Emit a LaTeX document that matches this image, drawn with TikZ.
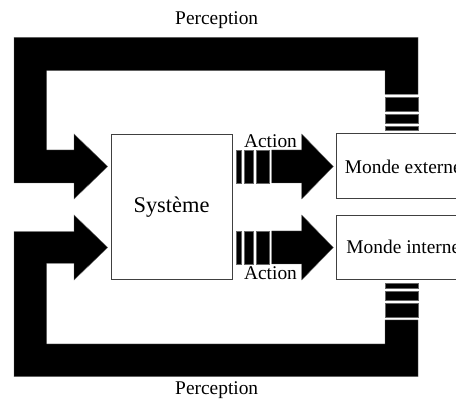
\documentclass[tikz,border=0pt]{standalone}
\usepackage{fontspec}
\setmainfont{Liberation Serif}
\usepackage{tikz}
\usetikzlibrary{positioning}

\begin{document}
\begin{tikzpicture}[x=0.5pt, y=-0.5pt, font=\fontsize{9.7}{11}\selectfont,
  bx/.style={draw=black!75, line width=0.5pt, fill=white, inner sep=0pt},
  fat/.style={fill=black, draw=black!60, line width=0.2pt}]
  \useasboundingbox (0,0) rectangle (456,401);
  % boites
  \node[bx, minimum width=60.5pt, minimum height=72.6pt, font=\fontsize{11.2}{13}\selectfont] (sys) at (171.5,206.7) {Système};
  \node[bx, minimum width=66.7pt, minimum height=32.5pt] (ext) at (403.3,166.5) {Monde externe};
  \node[bx, minimum width=66.7pt, minimum height=32.1pt] (int) at (403.3,247.2) {Monde interne};
  % boucle du haut
  \fill[fat] (14,37.3) -- (418,37.3) -- (418,94.3) -- (385,94.3) -- (385,70.7) -- (46.7,70.7)
    -- (46.7,150) -- (74,150) -- (74,134) -- (107.7,166.5) -- (74,199) -- (74,183) -- (14,183) -- cycle;
  \fill[fat] (385,97.3) rectangle (418,111);
  \fill[fat] (385,114) rectangle (418,123.3);
  \fill[fat] (385,126) rectangle (418,130.7);
  % boucle du bas
  \fill[fat] (14,231.7) -- (74,231.7) -- (74,215) -- (107.7,247.5) -- (74,280) -- (74,263.3)
    -- (46.7,263.3) -- (46.7,344) -- (385,344) -- (385,320) -- (418,320) -- (418,376.7) -- (14,376.7) -- cycle;
  \fill[fat] (385,283) rectangle (418,288.3);
  \fill[fat] (385,291) rectangle (418,300);
  \fill[fat] (385,303.3) rectangle (418,317.3);
  % actions
  \foreach \yc in {166.5,247.5} {
    \fill[fat] (235.7,\yc-16.5) rectangle (240.7,\yc+16.5);
    \fill[fat] (243.7,\yc-16.5) rectangle (253.3,\yc+16.5);
    \fill[fat] (256,\yc-16.5) rectangle (268.7,\yc+16.5);
    \fill[fat] (271.7,\yc-16.5) -- (301.7,\yc-16.5) -- (301.7,\yc-32.5) -- (333.3,\yc)
      -- (301.7,\yc+32.5) -- (301.7,\yc+16.5) -- (271.7,\yc+16.5) -- cycle;
  }
  % textes
  \node (pcpt1) at (216.7,20) {Perception};
  \node (pcpt2) at (216.7,390) {Perception};
  \node[inner sep=0pt] (act1) at (270.5,141) {Action};
  \node[inner sep=0pt] (act2) at (270.5,273) {Action};
\end{tikzpicture}
\end{document}
